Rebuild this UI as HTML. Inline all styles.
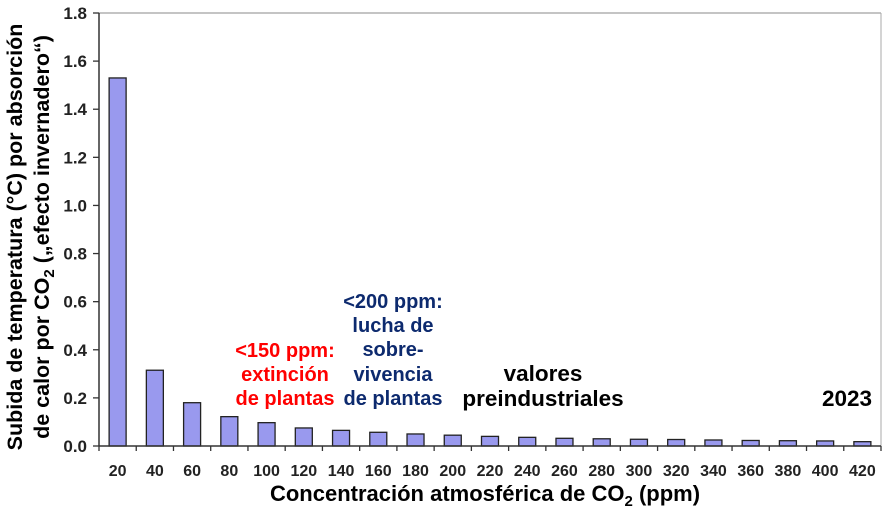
<!DOCTYPE html>
<html><head><meta charset="utf-8"><style>
html,body{margin:0;padding:0;background:#fff;}
svg{display:block;font-family:"Liberation Sans",Arial,sans-serif;font-weight:bold;}
</style></head><body>
<svg width="887" height="510" viewBox="0 0 887 510" xmlns="http://www.w3.org/2000/svg">
<rect width="887" height="510" fill="#fff"/>
<line x1="99" y1="13" x2="881" y2="13" stroke="#888" stroke-width="1"/>
<line x1="881" y1="13" x2="881" y2="446" stroke="#aaa" stroke-width="1"/>
<g id="bars" fill="#9999ee" stroke="#222" stroke-width="1.3"></g>
<line x1="99" y1="13" x2="99" y2="446" stroke="#333" stroke-width="1.5"/>
<line x1="99" y1="446" x2="881" y2="446" stroke="#333" stroke-width="1.5"/>
<g id="yt" font-size="17" fill="#222" text-anchor="end"></g>
<g id="xt" font-size="16" fill="#222" text-anchor="middle"></g>
<text x="485" y="501" font-size="22" text-anchor="middle" fill="#000">Concentración atmosférica de CO<tspan font-size="15" dy="5">2</tspan><tspan dy="-5"> (ppm)</tspan></text>
<text transform="translate(22,237) rotate(-90)" font-size="21.5" text-anchor="middle" fill="#000">Subida de temperatura (°C) por absorción</text>
<text transform="translate(49,237) rotate(-90)" font-size="21.5" text-anchor="middle" fill="#000">de calor por CO<tspan font-size="15" dy="5">2</tspan><tspan dy="-5"> („efecto invernadero“)</tspan></text>
<g font-size="20" text-anchor="middle" fill="#ff0000">
<text x="285" y="357">&lt;150 ppm:</text><text x="285" y="381">extinción</text><text x="285" y="405">de plantas</text></g>
<g font-size="20" text-anchor="middle" fill="#0d2a6e">
<text x="393" y="308">&lt;200 ppm:</text><text x="393" y="332">lucha de</text><text x="393" y="356">sobre-</text><text x="393" y="381">vivencia</text><text x="393" y="405">de plantas</text></g>
<g font-size="22.5" text-anchor="middle" fill="#000">
<text x="543" y="381">valores</text><text x="543" y="406">preindustriales</text><text x="847" y="406">2023</text></g>
</svg>
<script>
const vals=[1.53,0.315,0.18,0.122,0.097,0.075,0.065,0.057,0.05,0.045,0.04,0.036,0.032,0.03,0.028,0.027,0.025,0.023,0.022,0.021,0.018];
const ns="http://www.w3.org/2000/svg",x0=99,w=(881-99)/21,y0=446,k=433/1.8;
const B=document.getElementById('bars'),Y=document.getElementById('yt'),X=document.getElementById('xt'),S=document.querySelector('svg');
function el(t,a,p,txt){const e=document.createElementNS(ns,t);for(const q in a)e.setAttribute(q,a[q]);if(txt!==undefined)e.textContent=txt;p.appendChild(e);return e;}
vals.forEach((v,i)=>{const c=x0+w*(i+0.5),h=v*k;
el('rect',{x:c-8.5,y:y0-h,width:17,height:h},B);
el('text',{x:c,y:476},X,String(20*(i+1)));});
for(let i=0;i<=21;i++){const x=x0+w*i;el('line',{x1:x,y1:y0,x2:x,y2:y0+5,stroke:'#333','stroke-width':1.3},S);}
for(let i=0;i<=9;i++){const v=i*0.2,y=y0-v*k;el('line',{x1:93,y1:y,x2:99,y2:y,stroke:'#333','stroke-width':1.3},S);
el('text',{x:87,y:y+6},Y,v.toFixed(1));}
</script>
</body></html>
